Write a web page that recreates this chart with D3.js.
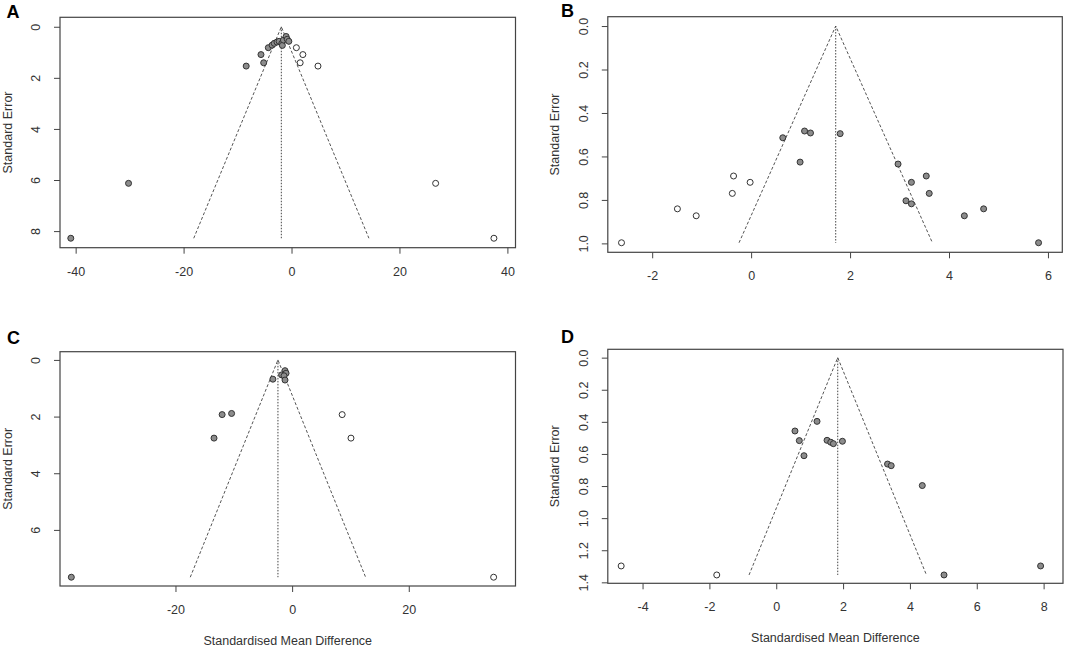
<!DOCTYPE html>
<html>
<head>
<meta charset="utf-8">
<script src="https://cdn.jsdelivr.net/npm/d3@7"></script>
<style>
  body { margin: 0; background: #fff; }
  text { font-family: "Liberation Sans", Arial, sans-serif; fill: #333; }
</style>
</head>
<body>
<div id="funnels"></div>
<script>
// Panel A data (standardised mean difference vs standard error)
var aFilledSmd = [-8.4, -5.66, -5.16, -4.3, -3.6, -3.2, -2.7, -2.3, -1.8, -1.7, -1.5, -1.0, -0.8, -0.5, -30.2, -40.9];
var aFilledSe = [1.54, 1.09, 1.41, 0.82, 0.72, 0.65, 0.6, 0.57, 0.65, 0.73, 0.52, 0.38, 0.49, 0.57, 6.13, 8.28];
var aOpenSmd = [0.9, 2.1, 1.6, 4.9, 26.7, 37.5];
var aOpenSe = [0.82, 1.09, 1.41, 1.54, 6.13, 8.28];
var aCenter = -1.89;
var aXTicks = [-40, -20, 0, 20, 40];
var aYTicks = [0, 2, 4, 6, 8];

// Panel B data
var bFilledSmd = [0.64, 1.08, 1.2, 1.8, 0.99, 2.97, 3.54, 3.24, 3.6, 3.13, 3.24, 4.31, 4.7, 5.81];
var bFilledSe = [0.514, 0.483, 0.492, 0.495, 0.626, 0.635, 0.69, 0.719, 0.77, 0.804, 0.818, 0.873, 0.841, 0.997];
var bOpenSmd = [-0.355, -0.02, -0.38, -1.49, -1.11, -2.62];
var bOpenSe = [0.69, 0.719, 0.77, 0.841, 0.873, 0.997];
var bCenter = 1.71;
var bXTicks = [-2, 0, 2, 4, 6];
var bYTicks = [0, 0.2, 0.4, 0.6, 0.8, 1.0];

// Panel C data
var cFilledSmd = [-3.3, -1.8, -1.22, -1.04, -1.39, -1.22, -12.0, -10.38, -13.39, -37.86];
var cFilledSe = [0.68, 0.53, 0.38, 0.47, 0.56, 0.71, 1.93, 1.89, 2.76, 7.67];
var cOpenSmd = [8.58, 10.09, 34.55];
var cOpenSe = [1.93, 2.76, 7.67];
var cCenter = -2.43;
var cXTicks = [-20, 0, 20];
var cYTicks = [0, 2, 4, 6];

// Panel D data
var dFilledSmd = [0.56, 0.69, 0.83, 1.22, 1.52, 1.63, 1.71, 1.98, 3.33, 3.44, 4.37, 5.02, 7.91];
var dFilledSe = [0.457, 0.517, 0.611, 0.397, 0.515, 0.527, 0.536, 0.521, 0.663, 0.673, 0.797, 1.354, 1.298];
var dOpenSmd = [-4.64, -1.78];
var dOpenSe = [1.298, 1.354];
var dCenter = 1.84;
var dXTicks = [-4, -2, 0, 2, 4, 6, 8];
var dYTicks = [0, 0.2, 0.4, 0.6, 0.8, 1.0, 1.2, 1.4];

var yTitle = "Standard Error";
var xTitle = "Standardised Mean Difference";

// canvas
var width = 1065;
var height = 647;
var svg = d3
  .select("#funnels")
  .append("svg")
  .attr("width", width)
  .attr("height", height);

// pair up x and y arrays into points
function zipPts(xs, ys) {
  return xs.map(function(x, i) {
    return { smd: x, se: ys[i] };
  });
}

// R prints a plain hyphen, not the unicode minus d3 uses
function plainFmt(spec) {
  var f = d3.format(spec);
  return function(v) {
    return f(v).replace("\u2212", "-");
  };
}

// panel layout (box in pixels, axis domains)
var panels = [
  { letter: "A", lx: 13, ly: 12, box: [60, 17.3, 515.5, 247.7], xDom: [-42.9, 41.5], yDom: [-0.37, 8.65],
    filled: zipPts(aFilledSmd, aFilledSe), open: zipPts(aOpenSmd, aOpenSe), center: aCenter,
    xTicks: aXTicks, yTicks: aYTicks, yFmt: plainFmt("d"), xLabel: false },
  { letter: "B", lx: 567.5, ly: 11, box: [607.8, 16.7, 1062.3, 252.3], xDom: [-2.897, 6.29], yDom: [-0.043, 1.041],
    filled: zipPts(bFilledSmd, bFilledSe), open: zipPts(bOpenSmd, bOpenSe), center: bCenter,
    xTicks: bXTicks, yTicks: bYTicks, yFmt: plainFmt(".1f"), xLabel: false },
  { letter: "C", lx: 13.5, ly: 338.3, box: [60, 351.7, 515.5, 586], xDom: [-39.8, 38.3], yDom: [-0.29, 7.98],
    filled: zipPts(cFilledSmd, cFilledSe), open: zipPts(cOpenSmd, cOpenSe), center: cCenter,
    xTicks: cXTicks, yTicks: cYTicks, yFmt: plainFmt("d"), xLabel: true },
  { letter: "D", lx: 567.5, ly: 337.3, box: [607.8, 349.3, 1063, 583.3], xDom: [-5.04, 8.58], yDom: [-0.052, 1.406],
    filled: zipPts(dFilledSmd, dFilledSe), open: zipPts(dOpenSmd, dOpenSe), center: dCenter,
    xTicks: dXTicks, yTicks: dYTicks, yFmt: plainFmt(".1f"), xLabel: true }
];

panels.forEach(function(p) {
  var left = p.box[0], top = p.box[1], right = p.box[2], bottom = p.box[3];
  var g = svg.append("g");

  var xScale = d3.scaleLinear().domain(p.xDom).range([left, right]);
  var yScale = d3.scaleLinear().domain(p.yDom).range([top, bottom]);

  // box
  g.append("rect")
    .attr("x", left)
    .attr("y", top)
    .attr("width", right - left)
    .attr("height", bottom - top)
    .attr("fill", "none")
    .attr("stroke", "#444")
    .attr("stroke-width", 1.2);

  // axes, R style
  var xAxis = d3.axisBottom(xScale).tickValues(p.xTicks).tickSize(6).tickFormat(plainFmt("d"));
  var yAxis = d3.axisLeft(yScale).tickValues(p.yTicks).tickSize(6).tickFormat(p.yFmt);

  var gx = g.append("g").attr("transform", "translate(0," + bottom + ")").call(xAxis);
  gx.select(".domain").remove();
  gx.selectAll("line").attr("stroke", "#444");
  gx.selectAll("text")
    .attr("y", 23.5)
    .attr("dy", "0.35em")
    .attr("font-size", 12.5)
    .attr("fill", "#333");

  var gy = g.append("g").attr("transform", "translate(" + left + ",0)").call(yAxis);
  gy.select(".domain").remove();
  gy.selectAll("line").attr("stroke", "#444");
  gy.selectAll("text")
    .attr("x", 0)
    .attr("dy", 0)
    .attr("text-anchor", "middle")
    .attr("dominant-baseline", "central")
    .attr("font-size", 12.5)
    .attr("fill", "#333")
    .attr("transform", "translate(-24,0) rotate(-90)");

  // y title
  g.append("text")
    .attr("transform", "translate(" + (left - 52.5) + "," + ((top + bottom) / 2) + ") rotate(-90)")
    .attr("text-anchor", "middle")
    .attr("dominant-baseline", "central")
    .attr("font-size", 12.5)
    .text(yTitle);

  // x title only on bottom row
  if (p.xLabel) {
    g.append("text")
      .attr("x", (left + right) / 2)
      .attr("y", bottom + 54.5)
      .attr("text-anchor", "middle")
      .attr("dominant-baseline", "central")
      .attr("font-size", 12.5)
      .text(xTitle);
  }

  // panel letter
  g.append("text")
    .attr("x", p.lx)
    .attr("y", p.ly)
    .attr("text-anchor", "middle")
    .attr("dominant-baseline", "central")
    .attr("font-size", 18)
    .attr("font-weight", "bold")
    .style("fill", "#000")
    .text(p.letter);

  // funnel: center +/- 1.96 * se, from se = 0 to the largest se
  var maxSe = d3.max(p.filled.concat(p.open), function(d) { return d.se; });
  var funnel = [
    [p.center - 1.96 * maxSe, maxSe],
    [p.center, 0],
    [p.center + 1.96 * maxSe, maxSe]
  ];
  g.append("path")
    .datum(funnel)
    .attr("d", d3.line()
      .x(function(d) { return xScale(d[0]); })
      .y(function(d) { return yScale(d[1]); }))
    .attr("fill", "none")
    .attr("stroke", "#555")
    .attr("stroke-width", 1)
    .attr("stroke-dasharray", "3,2");

  g.append("line")
    .attr("x1", xScale(p.center))
    .attr("x2", xScale(p.center))
    .attr("y1", yScale(0))
    .attr("y2", yScale(maxSe))
    .attr("stroke", "#444")
    .attr("stroke-width", 1)
    .attr("stroke-dasharray", "1.5,1.5");

  // open (imputed) studies
  g.selectAll("circle.open")
    .data(p.open)
    .enter()
    .append("circle")
    .attr("class", "open")
    .attr("cx", function(d) { return xScale(d.smd); })
    .attr("cy", function(d) { return yScale(d.se); })
    .attr("r", 3)
    .attr("fill", "#fff")
    .attr("stroke", "#333")
    .attr("stroke-width", 1);

  // filled (observed) studies
  g.selectAll("circle.filled")
    .data(p.filled)
    .enter()
    .append("circle")
    .attr("class", "filled")
    .attr("cx", function(d) { return xScale(d.smd); })
    .attr("cy", function(d) { return yScale(d.se); })
    .attr("r", 3)
    .attr("fill", "#8c8c8c")
    .attr("stroke", "#333")
    .attr("stroke-width", 1);
});
</script>
</body>
</html>
